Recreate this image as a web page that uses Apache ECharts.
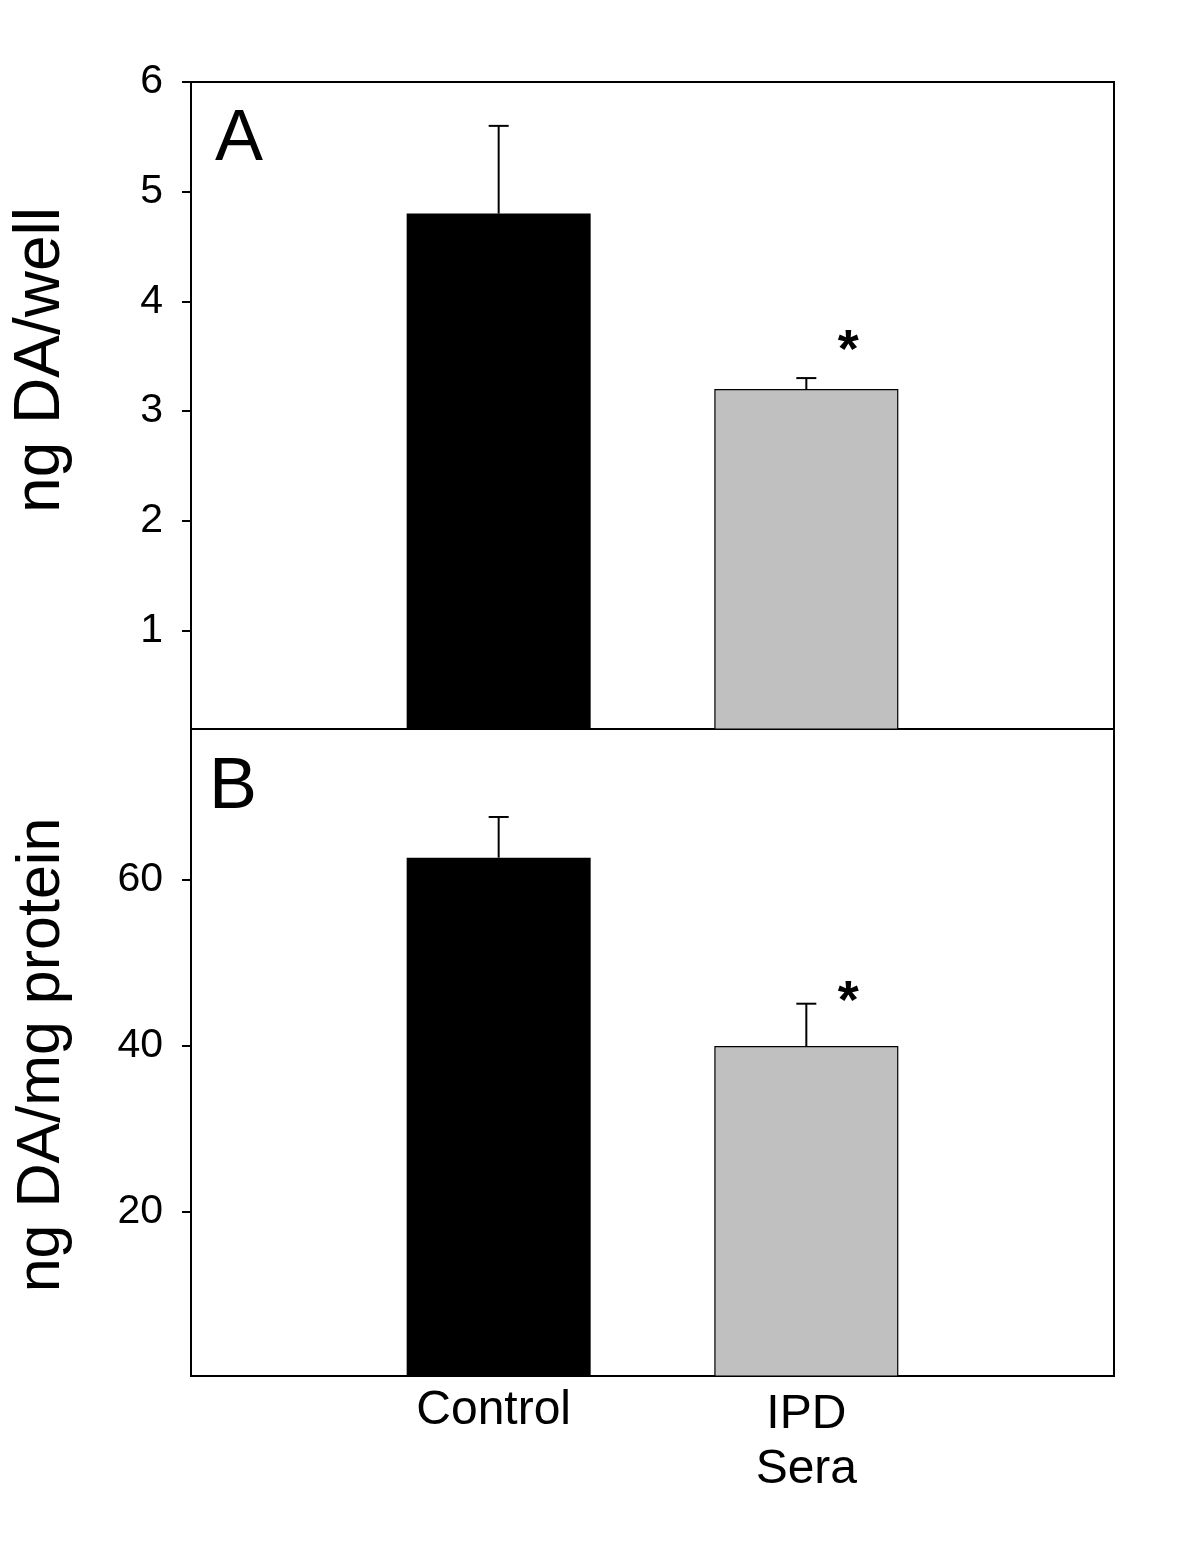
<!DOCTYPE html>
<html>
<head>
<meta charset="utf-8">
<script src="https://cdn.jsdelivr.net/npm/echarts@6/dist/echarts.min.js"></script>
<style>
  html, body { margin: 0; padding: 0; background: #fff; }
  #chart { width: 1200px; height: 1554px; }
</style>
</head>
<body>
<div id="chart"></div>
<script>
// categories: empty ends so the two bars sit at 1/3 and 2/3 of the frame
const categories = ['', 'Control', 'IPD\nSera', '']

// panel A: ng DA/well
const daWell = [null, 4.8, 3.2, null]
const daWellErr = [null, 0.8, 0.1, null]
const daWellStar = [null, null, 3.63, null]
const ticksA = [1, 2, 3, 4, 5, 6]

// panel B: ng DA/mg protein
const daProtein = [null, 62.7, 40.0, null]
const daProteinErr = [null, 4.9, 5.1, null]
const daProteinStar = [null, null, 46.4, null]
const ticksB = [20, 40, 60]

const barColors = [null, '#000000', '#c0c0c0', null]
const font = '"Liberation Sans", Arial, Helvetica, sans-serif'

let myChart = echarts.init(document.getElementById('chart'))

function barData (values) {
  return values.map(function (v, i) {
    if (v === null) return '-'
    return {
      value: v,
      itemStyle: {
        color: barColors[i],
        borderColor: '#000',
        borderWidth: i === 2 ? 1.2 : 0
      }
    }
  })
}

function errData (values, errs, stars) {
  let out = []
  values.forEach(function (v, i) {
    if (v !== null) out.push([i, v, errs[i], stars[i] === null ? -1 : stars[i]])
  })
  return out
}

function renderErr (params, api) {
  let base = api.coord([api.value(0), api.value(1)])
  let top = api.coord([api.value(0), api.value(1) + api.value(2)])
  let children = [
    { type: 'line', shape: { x1: base[0], y1: base[1], x2: top[0], y2: top[1] }, style: { stroke: '#000', lineWidth: 2 } },
    { type: 'line', shape: { x1: top[0] - 10, y1: top[1], x2: top[0] + 10, y2: top[1] }, style: { stroke: '#000', lineWidth: 2 } }
  ]
  if (api.value(3) > 0) {
    let s = api.coord([api.value(0), api.value(3)])
    children.push({
      type: 'text',
      x: s[0] + 42,
      y: s[1] + 10,
      style: { text: '*', font: 'bold 54px ' + font, fill: '#000', align: 'center', verticalAlign: 'middle' }
    })
  }
  return { type: 'group', children: children }
}

function yAxis (idx, min, max, ticks) {
  return {
    type: 'value',
    gridIndex: idx,
    min: min,
    max: max,
    splitLine: { show: false },
    axisLine: { show: true, lineStyle: { color: '#000', width: 2 } },
    axisTick: { show: true, inside: false, length: 9, lineStyle: { color: '#000', width: 2 }, customValues: ticks },
    axisLabel: { color: '#000', fontSize: 41, fontFamily: font, margin: 28, customValues: ticks }
  }
}

let option = {
  backgroundColor: '#fff',
  animation: false,
  grid: [
    { left: 191, top: 82, width: 923, height: 647, show: true, borderColor: '#000', borderWidth: 2, backgroundColor: 'transparent' },
    { left: 191, top: 729, width: 923, height: 647, show: true, borderColor: '#000', borderWidth: 2, backgroundColor: 'transparent' }
  ],
  xAxis: [
    {
      type: 'category', gridIndex: 0, data: categories, boundaryGap: false,
      axisLine: { show: true, lineStyle: { color: '#000', width: 2 } },
      axisTick: { show: false }, axisLabel: { show: false }, splitLine: { show: false }
    },
    {
      type: 'category', gridIndex: 1, data: categories, boundaryGap: false,
      axisLine: { show: true, lineStyle: { color: '#000', width: 2 } },
      axisTick: { show: false }, splitLine: { show: false },
      axisLabel: {
        color: '#000', fontSize: 48, fontFamily: font, lineHeight: 55, margin: 11, interval: 0,
        formatter: function (v) { return v === 'Control' ? '{c|' + v + '}' : v },
        rich: { c: { fontSize: 48, fontFamily: font, lineHeight: 55, padding: [0, 10, 8, 0] } }
      }
    }
  ],
  yAxis: [
    yAxis(0, 0.1, 6, ticksA),
    yAxis(1, 0.24, 78.2, ticksB)
  ],
  graphic: [
    { type: 'text', x: 41, y: 360, rotation: Math.PI / 2, style: { text: 'ng DA/well', font: '64px ' + font, fill: '#000', align: 'center', verticalAlign: 'middle' } },
    { type: 'text', x: 42, y: 1055, rotation: Math.PI / 2, style: { text: 'ng DA/mg protein', font: '61px ' + font, fill: '#000', align: 'center', verticalAlign: 'middle' } },
    { type: 'text', x: 215, y: 140, style: { text: 'A', font: '72px ' + font, fill: '#000', align: 'left', verticalAlign: 'middle' } },
    { type: 'text', x: 209, y: 788, style: { text: 'B', font: '72px ' + font, fill: '#000', align: 'left', verticalAlign: 'middle' } }
  ],
  series: [
    { type: 'bar', xAxisIndex: 0, yAxisIndex: 0, barWidth: 184, data: barData(daWell) },
    { type: 'bar', xAxisIndex: 1, yAxisIndex: 1, barWidth: 184, data: barData(daProtein) },
    { type: 'custom', xAxisIndex: 0, yAxisIndex: 0, renderItem: renderErr, data: errData(daWell, daWellErr, daWellStar), z: 5 },
    { type: 'custom', xAxisIndex: 1, yAxisIndex: 1, renderItem: renderErr, data: errData(daProtein, daProteinErr, daProteinStar), z: 5 }
  ]
}
myChart.setOption(option)
</script>
</body>
</html>
